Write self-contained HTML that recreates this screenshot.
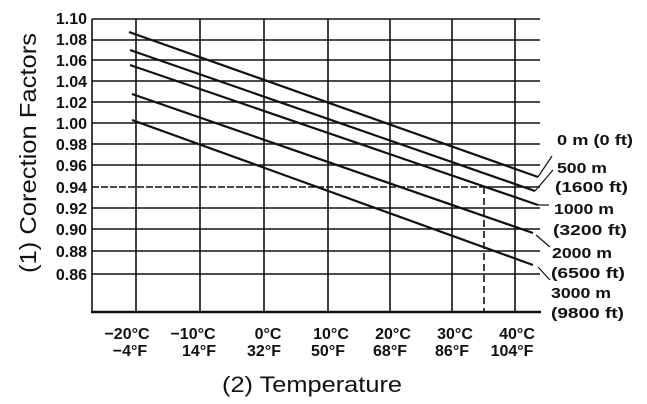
<!DOCTYPE html>
<html><head><meta charset="utf-8"><style>
html,body{margin:0;padding:0;background:#fff;}
svg{display:block;}
text{font-family:"Liberation Sans",sans-serif;fill:#111;}
</style></head><body>
<svg width="647" height="404" viewBox="0 0 647 404" xmlns="http://www.w3.org/2000/svg">
<rect width="647" height="404" fill="#fff"/>
<g stroke="#111" stroke-width="1.6" fill="none">
<line x1="92" y1="19" x2="540" y2="19"/>
<line x1="92" y1="40" x2="540" y2="40"/>
<line x1="92" y1="60" x2="540" y2="60"/>
<line x1="92" y1="81" x2="540" y2="81"/>
<line x1="92" y1="102" x2="540" y2="102"/>
<line x1="92" y1="123" x2="540" y2="123"/>
<line x1="92" y1="144" x2="540" y2="144"/>
<line x1="92" y1="165" x2="540" y2="165"/>
<line x1="92" y1="187" x2="484" y2="187" stroke-dasharray="7,2"/>
<line x1="484" y1="187" x2="540" y2="187"/>
<line x1="92" y1="208" x2="540" y2="208"/>
<line x1="92" y1="229" x2="540" y2="229"/>
<line x1="92" y1="251" x2="540" y2="251"/>
<line x1="92" y1="274" x2="540" y2="274"/>
<line x1="92" y1="19" x2="92" y2="312"/>
<line x1="136" y1="19" x2="136" y2="312"/>
<line x1="200" y1="19" x2="200" y2="312"/>
<line x1="264" y1="19" x2="264" y2="312"/>
<line x1="328" y1="19" x2="328" y2="312"/>
<line x1="390" y1="19" x2="390" y2="312"/>
<line x1="452" y1="19" x2="452" y2="312"/>
<line x1="515" y1="19" x2="515" y2="312"/>
<line x1="484" y1="187" x2="484" y2="312" stroke-dasharray="7,4"/>
<line x1="91" y1="312" x2="541" y2="312" stroke-width="2.4"/>
</g>
<g stroke="#111" stroke-width="2.2" fill="none">
<line x1="129" y1="32" x2="538" y2="177"/>
<line x1="130" y1="50" x2="535" y2="191"/>
<line x1="130" y1="65" x2="538" y2="205"/>
<line x1="132" y1="94" x2="533" y2="233"/>
<line x1="132" y1="120" x2="533" y2="265"/>
</g>
<g stroke="#111" stroke-width="1.2" fill="none">
<line x1="538" y1="177" x2="552" y2="156"/>
<line x1="535" y1="191" x2="553" y2="170"/>
<line x1="538" y1="205" x2="549" y2="205"/>
<line x1="536" y1="235" x2="550" y2="247"/>
<line x1="538" y1="267" x2="550" y2="280"/>
</g>
<g font-size="16" font-weight="bold" text-anchor="end">
<text x="87" y="24">1.10</text><text x="87" y="45">1.08</text><text x="87" y="66">1.06</text>
<text x="87" y="87">1.04</text><text x="87" y="108">1.02</text><text x="87" y="129">1.00</text>
<text x="87" y="150">0.98</text><text x="87" y="171">0.96</text><text x="87" y="193">0.94</text>
<text x="87" y="214">0.92</text><text x="87" y="235">0.90</text><text x="87" y="257">0.88</text>
<text x="87" y="280">0.86</text>
</g>
<text transform="translate(36,153) rotate(-90)" font-size="23" text-anchor="middle" textLength="240" lengthAdjust="spacingAndGlyphs">(1) Corection Factors</text>
<g font-size="15" font-weight="bold">
<text x="557" y="145" textLength="76" lengthAdjust="spacingAndGlyphs">0 m (0 ft)</text>
<text x="557" y="173" textLength="50" lengthAdjust="spacingAndGlyphs">500 m</text>
<text x="555" y="192" textLength="73" lengthAdjust="spacingAndGlyphs">(1600 ft)</text>
<text x="554" y="214" textLength="60" lengthAdjust="spacingAndGlyphs">1000 m</text>
<text x="553" y="235" textLength="74" lengthAdjust="spacingAndGlyphs">(3200 ft)</text>
<text x="552" y="258" textLength="60" lengthAdjust="spacingAndGlyphs">2000 m</text>
<text x="551" y="278" textLength="74" lengthAdjust="spacingAndGlyphs">(6500 ft)</text>
<text x="551" y="298" textLength="60" lengthAdjust="spacingAndGlyphs">3000 m</text>
<text x="551" y="318" textLength="73" lengthAdjust="spacingAndGlyphs">(9800 ft)</text>
</g>
<g font-size="16" font-weight="bold" text-anchor="middle">
<text x="127" y="339">−20°C</text><text x="130" y="356">−4°F</text>
<text x="193" y="339">−10°C</text><text x="199" y="356">14°F</text>
<text x="268" y="339">0°C</text><text x="264" y="356">32°F</text>
<text x="331" y="339">10°C</text><text x="328" y="356">50°F</text>
<text x="393" y="339">20°C</text><text x="390" y="356">68°F</text>
<text x="455" y="339">30°C</text><text x="452" y="356">86°F</text>
<text x="517" y="339">40°C</text><text x="512" y="356">104°F</text>
</g>
<text x="312" y="392" font-size="22" text-anchor="middle" textLength="180" lengthAdjust="spacingAndGlyphs">(2) Temperature</text>
</svg>
</body></html>
